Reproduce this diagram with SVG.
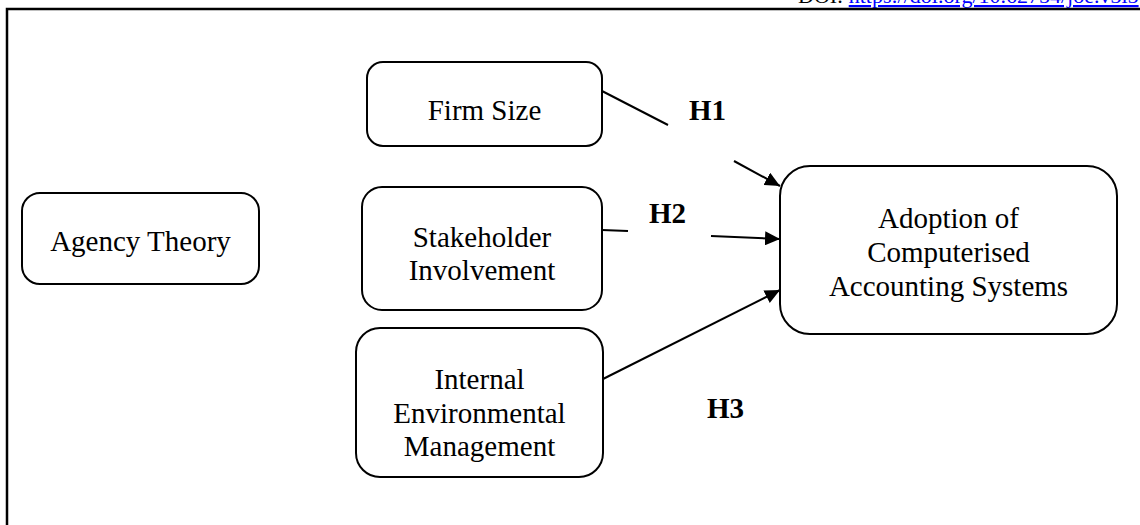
<svg xmlns="http://www.w3.org/2000/svg" width="1140" height="525" viewBox="0 0 1140 525">
<style>
.box{fill:#fff;stroke:#000;stroke-width:2}
.t{font-family:"Liberation Serif","Times New Roman",serif;font-size:29px;fill:#000;text-anchor:middle}
.h{font-family:"Liberation Serif","Times New Roman",serif;font-size:29px;font-weight:bold;fill:#000}
.c{stroke:#000;stroke-width:2;fill:none}
</style>
<defs>
<marker id="arr" markerUnits="userSpaceOnUse" markerWidth="16" markerHeight="14" refX="15" refY="7" orient="auto">
<path d="M0,0 L15,7 L0,14 Z" fill="#000"/>
</marker>
</defs>
<rect width="1140" height="525" fill="#fff"/>
<text x="798" y="3" font-family="Liberation Serif, serif" font-size="22" fill="#000">DOI: <tspan fill="#0000ff" text-decoration="underline">https://doi.org/10.62754/joe.v3i5</tspan></text>
<path d="M7,535 L7,9 L1150,9" fill="none" stroke="#000" stroke-width="2.5"/>
<g id="agency"><rect class="box" x="22" y="193" width="237" height="91" rx="18"/><text class="t" x="140.5" y="251">Agency Theory</text></g>
<g id="firm"><rect class="box" x="367" y="62" width="235" height="84" rx="16"/><text class="t" x="484.5" y="120">Firm Size</text></g>
<g id="stake"><rect class="box" x="362" y="187" width="240" height="123" rx="20"/><text class="t" x="482" y="247">Stakeholder</text><text class="t" x="482" y="280">Involvement</text></g>
<g id="internal"><rect class="box" x="356" y="328" width="247" height="149" rx="24"/><text class="t" x="479.5" y="389">Internal</text><text class="t" x="479.5" y="423">Environmental</text><text class="t" x="479.5" y="456">Management</text></g>
<g id="adoption"><rect class="box" x="780" y="166" width="337" height="168" rx="30"/><text class="t" x="948.5" y="228">Adoption of</text><text class="t" x="948.5" y="262">Computerised</text><text class="t" x="948.5" y="296">Accounting Systems</text></g>
<g id="connectors">
<line class="c" x1="602" y1="91" x2="668" y2="125"/>
<line class="c" x1="734" y1="161" x2="780" y2="186" marker-end="url(#arr)"/>
<line class="c" x1="602" y1="230" x2="628" y2="231"/>
<line class="c" x1="711" y1="236" x2="780" y2="239" marker-end="url(#arr)"/>
<line class="c" x1="603" y1="379" x2="780" y2="290" marker-end="url(#arr)"/>
</g>
<g id="labels">
<text class="h" x="689" y="120">H1</text>
<text class="h" x="649" y="223">H2</text>
<text class="h" x="707" y="418">H3</text>
</g>
</svg>
